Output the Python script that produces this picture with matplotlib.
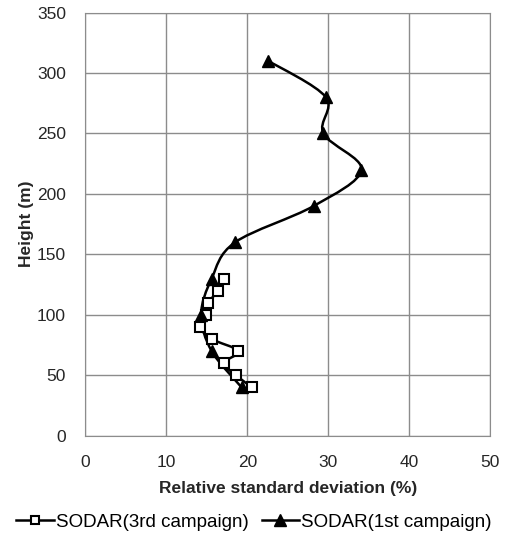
import numpy as np
import matplotlib
matplotlib.use('Agg')
import matplotlib.pyplot as plt
from matplotlib.path import Path
from matplotlib.patches import PathPatch
from matplotlib.lines import Line2D

plt.rcParams['font.family'] = ['Liberation Sans', 'DejaVu Sans']

# 3rd campaign (open squares)
h_3rd = [130, 120, 110, 100, 90, 80, 70, 60, 50, 40]
rsd_3rd = [17.1, 16.4, 15.2, 14.9, 14.2, 15.6, 18.9, 17.1, 18.6, 20.6]

# 1st campaign (filled triangles)
h_1st = [310, 280, 250, 220, 190, 160, 130, 100, 70, 40]
rsd_1st = [22.6, 29.7, 29.4, 34.1, 28.2, 18.5, 15.6, 14.3, 15.6, 19.3]

x_ticks = [0, 10, 20, 30, 40, 50]
y_ticks = [0, 50, 100, 150, 200, 250, 300, 350]

FS = 12.5
TXT = '#262626'


def smooth_path(ax, xs, ys, tension=1.0 / 6):
    # Excel-like smoothed line: Catmull-Rom bezier built in display space
    pts = ax.transData.transform(np.column_stack([xs, ys]))
    n = len(pts)
    verts = [pts[0]]
    codes = [Path.MOVETO]
    for i in range(n - 1):
        p0 = pts[i - 1] if i > 0 else pts[i]
        p1 = pts[i]
        p2 = pts[i + 1]
        p3 = pts[i + 2] if i + 2 < n else pts[i + 1]
        c1 = p1 + (p2 - p0) * tension
        c2 = p2 - (p3 - p1) * tension
        verts += [c1, c2, p2]
        codes += [Path.CURVE4] * 3
    verts = ax.transData.inverted().transform(np.array(verts))
    return Path(verts, codes)


fig = plt.figure(figsize=(5.08, 5.44), dpi=100)
ax = fig.add_axes([0.168, 0.199, 0.797, 0.778])
ax.set_xlim(0, 50)
ax.set_ylim(0, 350)
ax.set_xticks(x_ticks)
ax.set_yticks(y_ticks)
ax.grid(True, color='#8c8c8c', linewidth=1.0)
ax.set_axisbelow(True)
for s in ax.spines.values():
    s.set_color('#8c8c8c')
ax.tick_params(length=0, labelsize=FS, labelcolor=TXT)
ax.tick_params(axis='y', pad=14)
ax.tick_params(axis='x', pad=14)

for xs, ys in [(rsd_3rd, h_3rd), (rsd_1st, h_1st)]:
    ax.add_patch(PathPatch(smooth_path(ax, xs, ys), facecolor='none',
                           edgecolor='black', linewidth=1.8, zorder=3))

ax.plot(rsd_3rd, h_3rd, linestyle='none', marker='s', markersize=7.5,
        markerfacecolor='white', markeredgecolor='black', markeredgewidth=1.5, zorder=4)
ax.plot(rsd_1st, h_1st, linestyle='none', marker='^', markersize=9,
        color='black', zorder=5)

ax.set_xlabel('Relative standard deviation (%)', fontsize=FS, fontweight='bold',
              color=TXT, labelpad=8)
ax.set_ylabel('Height (m)', fontsize=FS, fontweight='bold', color=TXT, labelpad=2)

handles = [
    Line2D([], [], color='black', linewidth=1.8, marker='s', markersize=6,
           markerfacecolor='white', markeredgewidth=1.5),
    Line2D([], [], color='black', linewidth=1.8, marker='^', markersize=8),
]
fig.legend(handles, ['SODAR(3rd campaign)', 'SODAR(1st campaign)'],
           loc='center', bbox_to_anchor=(0.5, 0.04), ncol=2, frameon=False,
           fontsize=13.5, handlelength=2.0, handletextpad=0.1, columnspacing=0.7)

fig.savefig('out.png', dpi=100)
